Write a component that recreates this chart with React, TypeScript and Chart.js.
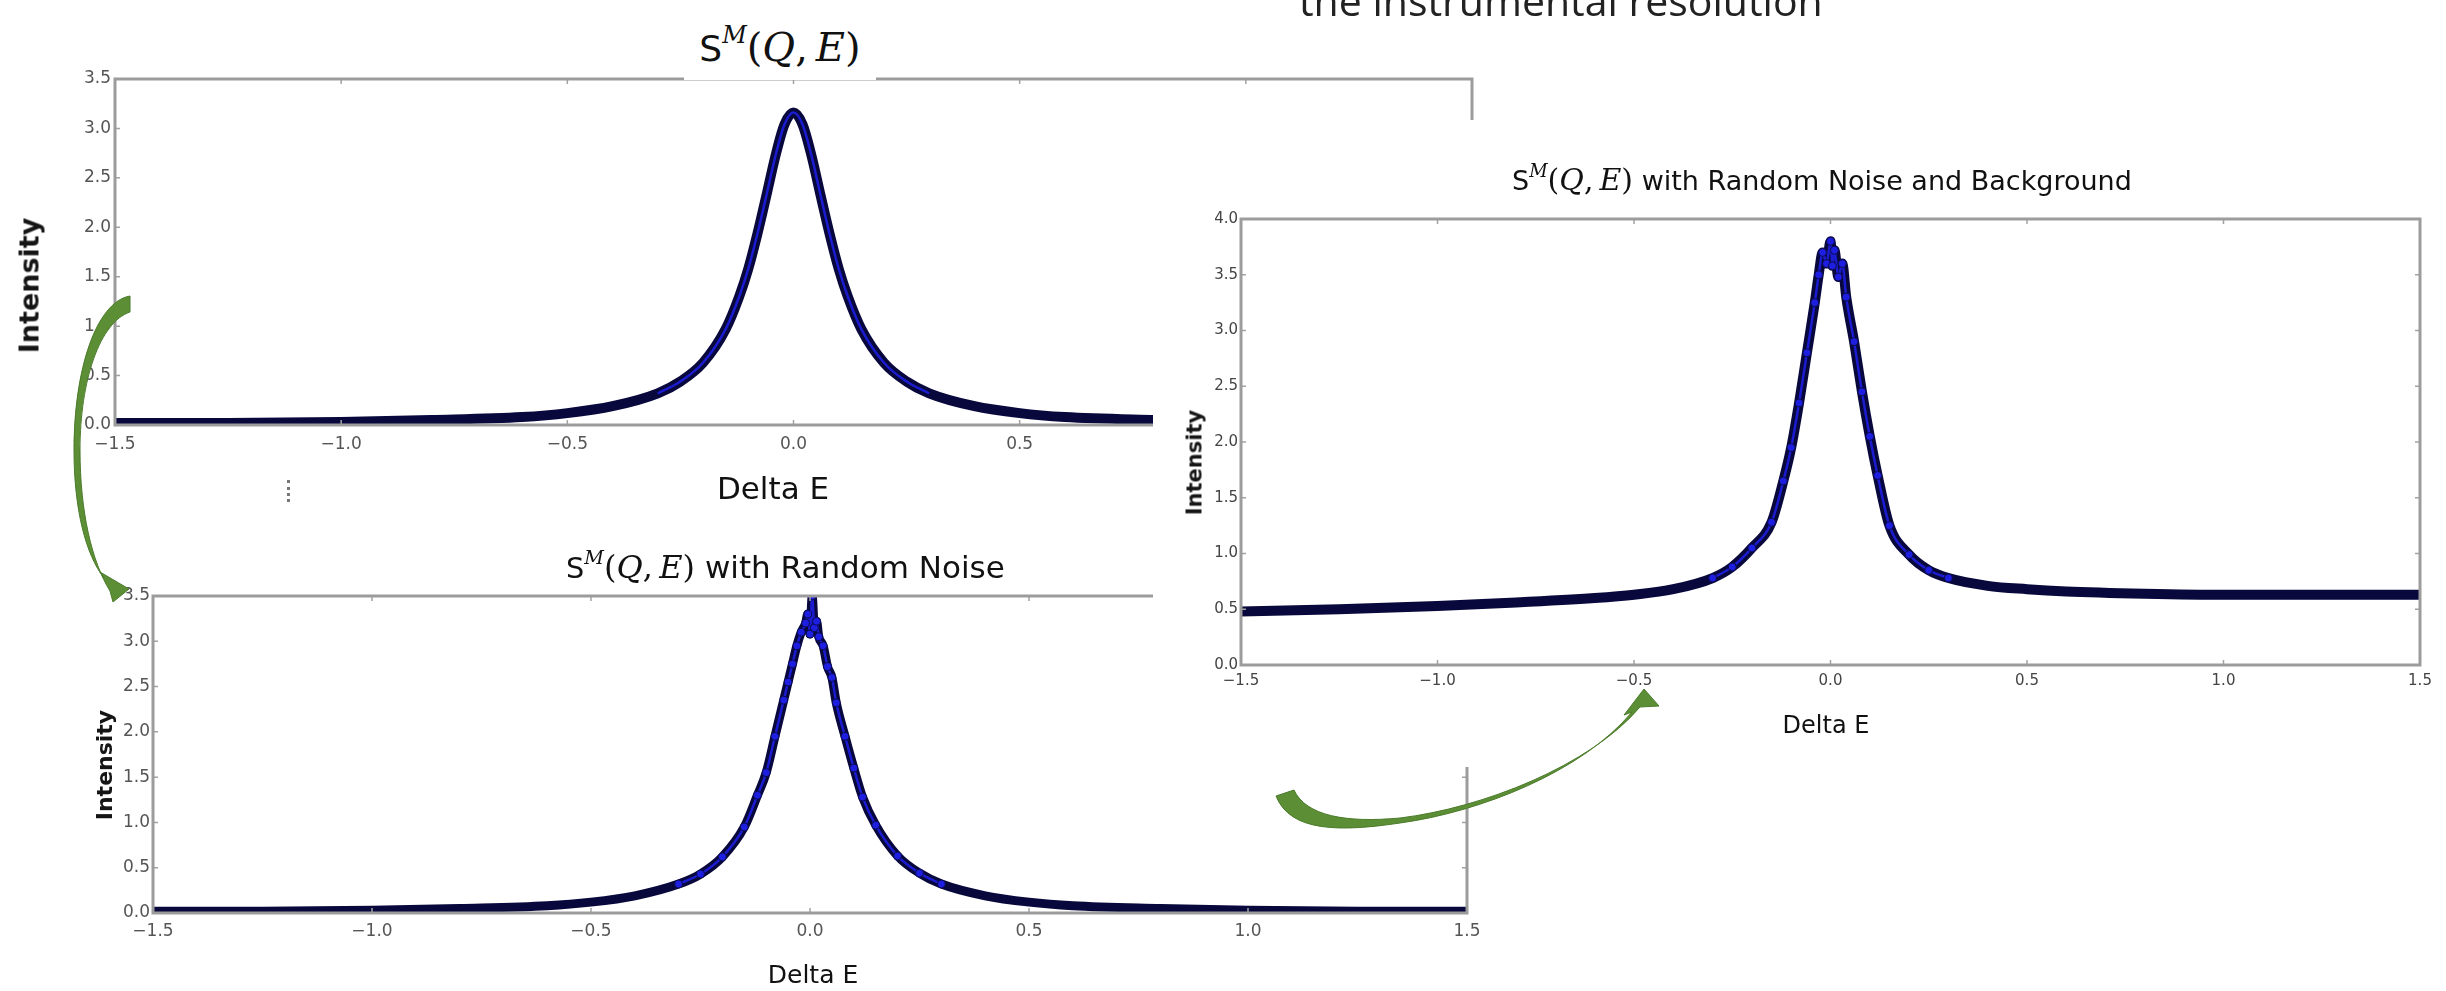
import React, { useEffect, useRef } from "react";
import { Chart, registerables } from "chart.js";
Chart.register(...registerables);

// ---- data ----
const X_TICKS = [-1.5, -1.0, -0.5, 0.0, 0.5, 1.0, 1.5];

const DELTA_E_1 = [-1.5, -1.25, -1.0, -0.8, -0.6, -0.5, -0.4, -0.3, -0.25, -0.2, -0.15, -0.12, -0.1, -0.08, -0.06, -0.04, -0.02, 0, 0.02, 0.04, 0.06, 0.08, 0.1, 0.12, 0.15, 0.2, 0.25, 0.3, 0.4, 0.5, 0.6, 0.8, 1.0, 1.25, 1.5];
const INTENSITY_1 = [0.02, 0.02, 0.03, 0.05, 0.08, 0.12, 0.19, 0.32, 0.44, 0.63, 0.97, 1.30, 1.58, 1.93, 2.32, 2.72, 3.04, 3.16, 3.04, 2.72, 2.32, 1.93, 1.58, 1.30, 0.97, 0.63, 0.44, 0.32, 0.19, 0.12, 0.08, 0.05, 0.03, 0.02, 0.02];

const DELTA_E_2 = [-1.5, -1.25, -1.0, -0.8, -0.6, -0.5, -0.4, -0.3, -0.25, -0.2, -0.15, -0.12, -0.1, -0.08, -0.06, -0.05, -0.04, -0.03, -0.02, -0.01, -0.005, 0, 0.005, 0.01, 0.015, 0.02, 0.03, 0.04, 0.05, 0.06, 0.08, 0.1, 0.12, 0.15, 0.2, 0.25, 0.3, 0.4, 0.5, 0.6, 0.8, 1.0, 1.25, 1.5];
const INTENSITY_2 = [0.02, 0.02, 0.03, 0.05, 0.08, 0.12, 0.19, 0.32, 0.43, 0.62, 0.95, 1.30, 1.55, 1.95, 2.35, 2.55, 2.75, 2.95, 3.10, 3.20, 3.30, 3.08, 3.50, 3.15, 3.22, 3.05, 2.95, 2.72, 2.60, 2.32, 1.95, 1.60, 1.28, 0.97, 0.63, 0.44, 0.32, 0.19, 0.12, 0.08, 0.05, 0.03, 0.02, 0.02];

const DELTA_E_3 = [-1.5, -1.25, -1.0, -0.8, -0.6, -0.5, -0.4, -0.3, -0.25, -0.2, -0.15, -0.12, -0.1, -0.08, -0.06, -0.04, -0.03, -0.02, -0.01, 0, 0.005, 0.01, 0.02, 0.03, 0.04, 0.06, 0.08, 0.1, 0.12, 0.15, 0.2, 0.25, 0.3, 0.4, 0.5, 0.6, 0.8, 1.0, 1.25, 1.5];
const INTENSITY_3 = [0.48, 0.50, 0.53, 0.56, 0.60, 0.63, 0.68, 0.78, 0.88, 1.05, 1.28, 1.65, 1.95, 2.35, 2.80, 3.25, 3.50, 3.70, 3.60, 3.80, 3.58, 3.72, 3.48, 3.60, 3.30, 2.90, 2.45, 2.05, 1.70, 1.25, 0.99, 0.85, 0.78, 0.71, 0.68, 0.66, 0.64, 0.63, 0.63, 0.63];

const Y_MAX_12 = 3.5;
const Y_MAX_3 = 4.0;

const fmt = (v: number) => {
  const s = Number(v).toFixed(1);
  return s.startsWith("-") ? "\u2212" + s.slice(1) : s;
};

type Box = { left: number; top: number; width: number; height: number };
type Area = { l: number; t: number; r: number; b: number };

function MplChart(props: {
  box: Box; area: Area; xs: number[]; ys: number[]; yMax: number;
  tickSize: number; tickFamily: string; xPad: number; yPad: number; lineW: number; dots: boolean; tickColor: string;
}) {
  const { box, area, xs, ys, yMax, tickSize, tickFamily, xPad, yPad, lineW, dots, tickColor } = props;
  const ref = useRef<HTMLCanvasElement>(null);
  useEffect(() => {
    const pts = xs.map((x, i) => ({ x, y: ys[i] }));
    const peak = pts.filter((p) => Math.abs(p.x) <= 0.32);
    const frame = {
      id: "frame",
      afterDatasetsDraw(chart: any) {
        const { ctx, chartArea: a, scales } = chart;
        ctx.save();
        ctx.strokeStyle = "#a2a2a2";
        ctx.lineWidth = 1.5;
        const tl = 5;
        X_TICKS.forEach((v) => {
          const px = scales.x.getPixelForValue(v);
          ctx.beginPath();
          ctx.moveTo(px, a.bottom); ctx.lineTo(px, a.bottom - tl);
          ctx.moveTo(px, a.top); ctx.lineTo(px, a.top + tl);
          ctx.stroke();
        });
        for (let v = 0; v <= yMax + 1e-9; v += 0.5) {
          const py = scales.y.getPixelForValue(v);
          ctx.beginPath();
          ctx.moveTo(a.left, py); ctx.lineTo(a.left + tl, py);
          ctx.moveTo(a.right, py); ctx.lineTo(a.right - tl, py);
          ctx.stroke();
        }
        ctx.strokeStyle = "#9c9c9c";
        ctx.lineWidth = 3;
        ctx.strokeRect(a.left, a.top, a.right - a.left, a.bottom - a.top);
        ctx.restore();
      },
    };
    const datasets: any[] = [
      { data: pts, borderColor: "#08083c", borderWidth: lineW, pointRadius: 0, cubicInterpolationMode: "monotone", order: 3 },
      { data: peak, borderColor: "#1b1bd0", borderWidth: 2.5, pointRadius: 0, cubicInterpolationMode: "monotone", order: 2 },
    ];
    if (dots) {
      datasets.push({
        data: peak, showLine: false, pointRadius: 4, pointBackgroundColor: "#1e1ee0",
        pointBorderColor: "#0a0a50", pointBorderWidth: 1, order: 1,
      });
    }
    const tickFont = { family: tickFamily, size: tickSize };
    const chart = new Chart(ref.current as HTMLCanvasElement, {
      type: "line",
      data: { datasets },
      options: {
        responsive: false,
        animation: false,
        events: [],
        layout: {
          padding: { left: 0, top: area.t - box.top, right: box.left + box.width - area.r, bottom: 0 },
        },
        plugins: { legend: { display: false }, tooltip: { enabled: false }, title: { display: false } },
        scales: {
          x: {
            type: "linear", min: -1.5, max: 1.5,
            grid: { display: false, drawTicks: false }, border: { display: false },
            ticks: { stepSize: 0.5, padding: xPad, color: tickColor, font: tickFont, maxRotation: 0, autoSkip: false, callback: (v: any) => fmt(v) },
            afterFit: (s: any) => { s.height = box.top + box.height - area.b; },
          },
          y: {
            type: "linear", min: 0, max: yMax,
            grid: { display: false, drawTicks: false }, border: { display: false },
            ticks: { stepSize: 0.5, padding: yPad, color: tickColor, font: tickFont, callback: (v: any) => fmt(v) },
            afterFit: (s: any) => { s.width = area.l - box.left; },
          },
        },
      } as any,
      plugins: [frame],
    });
    return () => chart.destroy();
  }, []);
  return (
    <canvas
      ref={ref}
      width={box.width}
      height={box.height}
      style={{ position: "absolute", left: box.left, top: box.top, width: box.width, height: box.height, background: "white" }}
    />
  );
}

const abs = (o: any): React.CSSProperties => ({ position: "absolute", whiteSpace: "nowrap", ...o });

function Label(p: { cx: number; cy: number; size: number; text: string; weight?: number; family?: string }) {
  return (
    <div style={abs({ left: p.cx - 200, top: p.cy - p.size * 0.48, width: 400, height: p.size, lineHeight: p.size + "px", fontSize: p.size, textAlign: "center", fontFamily: p.family || "DejaVu Sans", fontWeight: p.weight || 400, color: "#111" })}>
      {p.text}
    </div>
  );
}

function VLabel(p: { cx: number; cy: number; size: number; text: string }) {
  return (
    <div style={abs({ left: p.cx - 150, top: p.cy - p.size / 2, width: 300, height: p.size, lineHeight: p.size + "px", fontSize: p.size, textAlign: "center", fontFamily: "DejaVu Sans", fontWeight: 700, color: "#151515", transform: "rotate(-90deg)" })}>
      {p.text}
    </div>
  );
}

function MathS(p: { size: number }) {
  return (
    <span>
      <span style={{ fontFamily: "DejaVu Sans", fontSize: p.size * 0.9 }}>S</span>
      <sup style={{ fontFamily: "DejaVu Serif", fontStyle: "italic", fontSize: p.size * 0.6, verticalAlign: p.size * 0.45 + "px" }}>M</sup>
      <span style={{ fontFamily: "DejaVu Serif", fontSize: p.size }}>
        (<i>Q</i>,&thinsp;<i>E</i>)
      </span>
    </span>
  );
}

export default function App() {
  return (
    <div style={{ position: "absolute", left: 0, top: 0, width: 2446, height: 991, background: "white", overflow: "hidden" }}>
      {/* chart 1 */}
      <MplChart box={{ left: 0, top: 0, width: 1500, height: 520 }} area={{ l: 115, t: 79, r: 1472, b: 425 }}
        xs={DELTA_E_1} ys={INTENSITY_1} yMax={Y_MAX_12} tickSize={17} tickFamily="DejaVu Sans" xPad={9} yPad={4} lineW={10} dots={false} tickColor="#555" />
      {/* chart 2 */}
      <MplChart box={{ left: 0, top: 540, width: 1500, height: 451 }} area={{ l: 153, t: 596, r: 1467, b: 913 }}
        xs={DELTA_E_2} ys={INTENSITY_2} yMax={Y_MAX_12} tickSize={17} tickFamily="DejaVu Sans" xPad={8} yPad={3} lineW={9} dots={true} tickColor="#555" />

      <div style={abs({ left: 684, top: 0, width: 192, height: 80, background: "white", textAlign: "center", lineHeight: "70px", color: "#111" })}>
        <MathS size={40} />
      </div>
      <VLabel cx={29} cy={285} size={27} text="Intensity" />
      <Label cx={773} cy={488} size={31} text="Delta E" />
      <div style={abs({ left: 287, top: 480, width: 0, height: 22, borderLeft: "3px dotted #777" })} />

      <div style={abs({ left: 566, top: 533, height: 50, lineHeight: "50px", color: "#111" })}>
        <MathS size={32} />
        <span style={{ fontFamily: "DejaVu Sans", fontSize: 31 }}> with Random Noise</span>
      </div>
      <VLabel cx={105} cy={765} size={22} text="Intensity" />
      <Label cx={813} cy={974} size={25} text="Delta E" />

      {/* chart 3 */}
      <MplChart box={{ left: 1153, top: 120, width: 1293, height: 647 }} area={{ l: 1241, t: 219, r: 2420, b: 665 }}
        xs={DELTA_E_3} ys={INTENSITY_3} yMax={Y_MAX_3} tickSize={15} tickFamily="DejaVu Sans" xPad={7} yPad={3} lineW={10} dots={true} tickColor="#444" />
      <div style={abs({ left: 1512, top: 145, height: 50, lineHeight: "50px", color: "#111" })}>
        <MathS size={30} />
        <span style={{ fontFamily: "DejaVu Sans", fontSize: 27 }}> with Random Noise and Background</span>
      </div>
      <VLabel cx={1195} cy={462} size={21} text="Intensity" />
      <Label cx={1826} cy={725} size={24} text="Delta E" />

      <div style={abs({ left: 1299, top: -20, fontFamily: "Open Sans", fontSize: 41, lineHeight: "41px", color: "#222" })}>
        the instrumental resolution
      </div>

      <svg width={2446} height={991} style={{ position: "absolute", left: 0, top: 0, pointerEvents: "none" }}>
        <path
          d="M 130 296 C 96 302, 74 370, 74 450 C 74 510, 86 555, 104 578 L 100 572 L 129 589 L 113 602 L 110 591 C 92 562, 80 512, 80 450 C 80 380, 100 322, 130 312 Z"
          fill="#5c8f35" stroke="#4a7a2a" strokeWidth={1}
        />
        <path
          d="M 1276 796 C 1290 832, 1340 832, 1400 823 C 1480 812, 1582 772, 1632 712 L 1624 715 L 1644 689 L 1659 706 L 1640 707 C 1590 766, 1482 808, 1400 818 C 1346 823, 1306 816, 1294 790 Z"
          fill="#5c8f35" stroke="#4a7a2a" strokeWidth={1}
        />
      </svg>
    </div>
  );
}
